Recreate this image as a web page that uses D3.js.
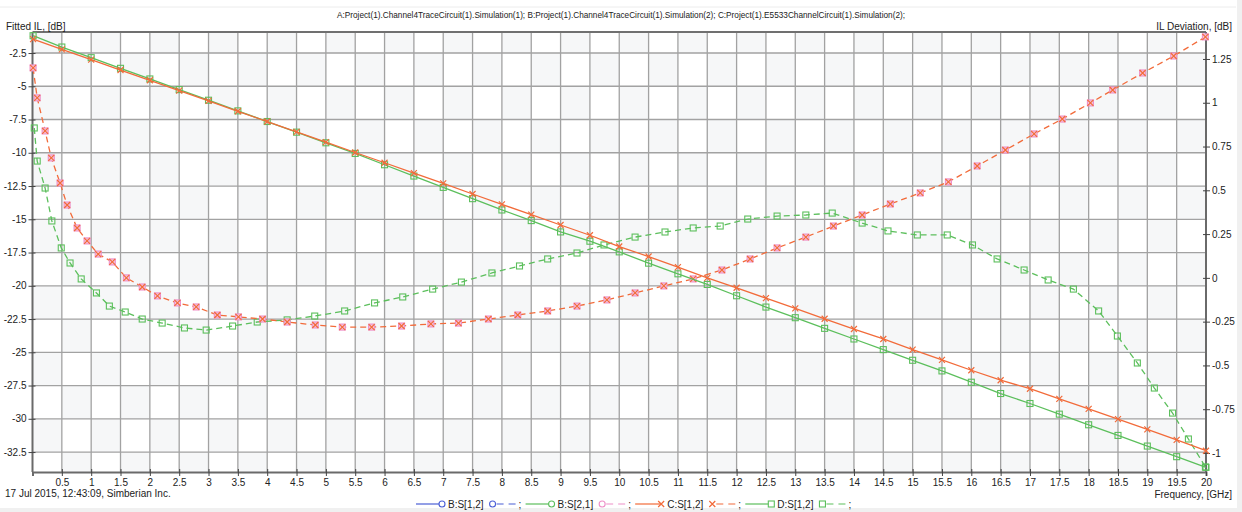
<!DOCTYPE html>
<html>
<head>
<meta charset="utf-8">
<script src="https://cdn.jsdelivr.net/npm/d3@7"></script>
<style>
  body { margin: 0; background: #fff; }
  text { font-family: "Liberation Sans Narrow", "Liberation Sans", Arial, sans-serif; font-size: 10px; fill: #222; }
</style>
</head>
<body>
<div id="chart"></div>
<script>
// ---- data ----
const fitFreq = [0.01, 0.5, 1, 1.5, 2, 2.5, 3, 3.5, 4, 4.5, 5, 5.5, 6, 6.5, 7, 7.5, 8, 8.5, 9, 9.5,
  10, 10.5, 11, 11.5, 12, 12.5, 13, 13.5, 14, 14.5, 15, 15.5, 16, 16.5, 17, 17.5, 18, 18.5, 19, 19.5, 20];

// C:S[1,2] fitted IL, left axis
const cFit = [-1.45, -2.23, -3.0, -3.78, -4.55, -5.33, -6.1, -6.88, -7.65, -8.43, -9.2, -9.98, -10.75, -11.53,
  -12.3, -13.1, -13.88, -14.65, -15.43, -16.2, -17.05, -17.8, -18.6, -19.4, -20.15, -20.93, -21.7, -22.48,
  -23.25, -24.0, -24.8, -25.57, -26.35, -27.1, -27.74, -28.5, -29.25, -30.02, -30.8, -31.58, -32.4];

// D:S[1,2] fitted IL, left axis
const dFit = [-1.2, -2.05, -2.85, -3.65, -4.45, -5.25, -6.05, -6.85, -7.65, -8.45, -9.25, -10.05, -10.9, -11.75,
  -12.6, -13.45, -14.3, -15.1, -15.95, -16.65, -17.45, -18.3, -19.1, -19.9, -20.75, -21.6, -22.4, -23.2,
  -24.0, -24.8, -25.6, -26.4, -27.25, -28.1, -28.85, -29.65, -30.45, -31.25, -32.05, -32.85, -33.65];

// C:S[1,2] IL deviation, right axis
const cDevFreq = [0.01, 0.08, 0.215, 0.32, 0.47, 0.59, 0.76, 0.93, 1.12, 1.36, 1.6, 1.87, 2.13, 2.47, 2.79,
  3.15, 3.51, 3.92, 4.34, 4.82, 5.28, 5.78, 6.29, 6.79, 7.26, 7.77, 8.27, 8.78, 9.28, 9.79, 10.27, 10.76,
  11.26, 11.75, 12.23, 12.69, 13.18, 13.65, 14.14, 14.62, 15.13, 15.61, 16.1, 16.58, 17.07, 17.55, 18.03,
  18.41, 18.92, 19.45, 19.99];
const cDev = [1.199, 1.028, 0.839, 0.685, 0.542, 0.416, 0.285, 0.211, 0.136, 0.091, 0.0, -0.052, -0.103, -0.143,
  -0.166, -0.212, -0.223, -0.235, -0.252, -0.269, -0.281, -0.281, -0.275, -0.263, -0.258, -0.235, -0.212,
  -0.189, -0.161, -0.126, -0.086, -0.046, -0.006, 0.045, 0.108, 0.171, 0.233, 0.296, 0.359, 0.422, 0.485,
  0.548, 0.639, 0.73, 0.822, 0.907, 0.999, 1.073, 1.17, 1.267, 1.376];

// D:S[1,2] IL deviation, right axis
const dDevFreq = [0.03, 0.08, 0.215, 0.33, 0.49, 0.64, 0.83, 1.09, 1.31, 1.58, 1.87, 2.21, 2.59, 2.96, 3.41,
  3.83, 4.34, 4.81, 5.32, 5.83, 6.31, 6.82, 7.31, 7.83, 8.3, 8.78, 9.28, 9.74, 10.27, 10.78, 11.26, 11.72,
  12.19, 12.69, 13.18, 13.63, 14.14, 14.58, 15.08, 15.59, 16.02, 16.44, 16.9, 17.31, 17.74, 18.17, 18.49,
  18.83, 19.12, 19.43, 19.7, 19.99];
const dDev = [0.856, 0.667, 0.513, 0.325, 0.171, 0.085, -0.006, -0.086, -0.161, -0.195, -0.235, -0.258, -0.286,
  -0.298, -0.275, -0.252, -0.24, -0.218, -0.189, -0.143, -0.109, -0.064, -0.024, 0.028, 0.068, 0.108, 0.142,
  0.188, 0.233, 0.262, 0.285, 0.296, 0.336, 0.353, 0.359, 0.37, 0.313, 0.268, 0.245, 0.245, 0.188, 0.108,
  0.045, -0.012, -0.064, -0.189, -0.332, -0.486, -0.629, -0.772, -0.92, -1.08];

const xTicks = [0.5, 1, 1.5, 2, 2.5, 3, 3.5, 4, 4.5, 5, 5.5, 6, 6.5, 7, 7.5, 8, 8.5, 9, 9.5, 10,
  10.5, 11, 11.5, 12, 12.5, 13, 13.5, 14, 14.5, 15, 15.5, 16, 16.5, 17, 17.5, 18, 18.5, 19, 19.5, 20];
const leftTicks = [-2.5, -5, -7.5, -10, -12.5, -15, -17.5, -20, -22.5, -25, -27.5, -30, -32.5];
const rightTicks = [1.25, 1, 0.75, 0.5, 0.25, 0, -0.25, -0.5, -0.75, -1];

const titleText = "A:Project(1).Channel4TraceCircuit(1).Simulation(1); B:Project(1).Channel4TraceCircuit(1).Simulation(2); C:Project(1).E5533ChannelCircuit(1).Simulation(2);";

const legendNames = ["B:S[1,2]", "B:S[2,1]", "C:S[1,2]", "D:S[1,2]"];
const legendColors = ["#4b5fd6", "#5cbf5c", "#f26b3a", "#5cbf5c"];
const legendDevColors = ["#4b5fd6", "#ee8fc8", "#f26b3a", "#5cbf5c"];
const legendMarks = ["circle", "circle", "x", "square"];

// ---- setup ----
const width = 1242, height = 512;
const red = "#f26b3a", green = "#5cbf5c", pink = "#ee8fc8";

const svg = d3.select("#chart").append("svg")
  .attr("width", width).attr("height", height);

const x = d3.scaleLinear().domain([0, 20]).range([32.5, 1206]);
const yL = d3.scaleLinear().domain([-34.0, -0.92]).range([472, 32]);
const yR = d3.scaleLinear().domain([-1.1085, 1.404]).range([472, 32]);

// window frame bits
svg.append("line").attr("x1", 0).attr("x2", 1236).attr("y1", 7).attr("y2", 7)
  .attr("stroke", "#ececec");
svg.append("rect").attr("x", 1237).attr("y", 0).attr("width", 5).attr("height", height).attr("fill", "#f0f0f0");
svg.append("rect").attr("x", 0).attr("y", 508).attr("width", width).attr("height", 4).attr("fill", "#f0f0f0");

// checker background
const colEdges = [0].concat(xTicks);
const rowEdges = [-0.92].concat(leftTicks).concat([-34.0]);
const bg = svg.append("g");
for (let i = 0; i < colEdges.length - 1; i++) {
  for (let j = 0; j < rowEdges.length - 1; j++) {
    if ((i + j) % 2 === 0) {
      bg.append("rect")
        .attr("x", x(colEdges[i])).attr("width", x(colEdges[i + 1]) - x(colEdges[i]))
        .attr("y", yL(rowEdges[j])).attr("height", yL(rowEdges[j + 1]) - yL(rowEdges[j]))
        .attr("fill", "#f6f7f8");
    }
  }
}

// grid
svg.append("g").selectAll("line").data(xTicks.slice(0, -1)).enter().append("line")
  .attr("x1", d => x(d)).attr("x2", d => x(d)).attr("y1", 32).attr("y2", 472)
  .attr("stroke", "#a2a2a2").attr("stroke-width", 1.3);
svg.append("g").selectAll("line").data(leftTicks).enter().append("line")
  .attr("x1", x(0)).attr("x2", x(20)).attr("y1", d => yL(d)).attr("y2", d => yL(d))
  .attr("stroke", "#a2a2a2").attr("stroke-width", 1.3);

// frame top
svg.append("line").attr("x1", x(0)).attr("x2", x(20)).attr("y1", 32).attr("y2", 32)
  .attr("stroke", "#707070").attr("stroke-width", 2);

// axes
const fmt = d => String(d);
const gx = svg.append("g").attr("transform", "translate(0,472)")
  .call(d3.axisBottom(x).tickValues(xTicks).tickFormat(fmt).tickSize(4).tickPadding(3));
gx.selectAll(".tick line").attr("y1", -3);
const gl = svg.append("g").attr("transform", `translate(${x(0)},0)`)
  .call(d3.axisLeft(yL).tickValues(leftTicks).tickFormat(fmt).tickSize(4).tickPadding(2));
gl.selectAll(".tick line").attr("x1", 3);
const gr = svg.append("g").attr("transform", `translate(${x(20)},0)`)
  .call(d3.axisRight(yR).tickValues(rightTicks).tickFormat(fmt).tickSize(4).tickPadding(2));
gr.selectAll(".tick line").attr("x1", -3);
[gx, gl, gr].forEach(g => {
  g.select(".domain").attr("stroke", "#6a6a6a").attr("stroke-width", 2);
  g.selectAll(".tick line").attr("stroke", "#444");
  g.selectAll(".tick text").style("font-size", "10px").attr("fill", "#222");
});
gl.selectAll(".domain").attr("d", `M0,32V472`);
gr.selectAll(".domain").attr("d", `M0,32V472`);

// markers
function drawMarks(g, pts, kind, color, fill) {
  pts.forEach(p => {
    if (kind === "x") {
      g.append("path").attr("d", `M${p[0] - 3},${p[1] - 3}L${p[0] + 3},${p[1] + 3}M${p[0] - 3},${p[1] + 3}L${p[0] + 3},${p[1] - 3}`)
        .attr("stroke", color).attr("stroke-width", 1.2).attr("fill", "none");
    } else if (kind === "square") {
      g.append("rect").attr("x", p[0] - 3).attr("y", p[1] - 3).attr("width", 6).attr("height", 6)
        .attr("stroke", color).attr("stroke-width", 1.1).attr("fill", fill || "none");
    } else {
      g.append("circle").attr("cx", p[0]).attr("cy", p[1]).attr("r", 3)
        .attr("stroke", color).attr("stroke-width", 1.1).attr("fill", fill || "none");
    }
  });
}

function drawSeries(freqs, vals, yScale, color, dashed, kinds) {
  const pts = freqs.map((f, i) => [x(f), yScale(vals[i])]);
  const g = svg.append("g");
  g.append("path").datum(pts)
    .attr("d", d3.line())
    .attr("fill", "none").attr("stroke", color).attr("stroke-width", 1.3)
    .attr("stroke-dasharray", dashed ? "6,4" : null);
  kinds.forEach(k => drawMarks(g, pts, k[0], k[1], k[2]));
}

drawSeries(dDevFreq, dDev, yR, green, true, [["square", green]]);
drawSeries(cDevFreq, cDev, yR, red, true, [["square", pink, "#f6c6dc"], ["x", red]]);
drawSeries(fitFreq, dFit, yL, green, false, [["square", green]]);
drawSeries(fitFreq, cFit, yL, red, false, [["x", red]]);

// labels
svg.append("text").attr("x", 621).attr("y", 18).attr("text-anchor", "middle")
  .attr("textLength", 568).attr("lengthAdjust", "spacingAndGlyphs").style("font-size", "9.5px")
  .text(titleText);
svg.append("text").attr("x", 6).attr("y", 30).text("Fitted IL, [dB]");
svg.append("text").attr("x", 1232).attr("y", 30).attr("text-anchor", "end").text("IL Deviation, [dB]");
svg.append("text").attr("x", 5).attr("y", 497).text("17 Jul 2015, 12:43:09, Simberian Inc.");
svg.append("text").attr("x", 1232).attr("y", 498).attr("text-anchor", "end").text("Frequency, [GHz]");

// legend
const lg = svg.append("g");
let cx = 416;
const ly = 504;
legendNames.forEach((name, i) => {
  lg.append("line").attr("x1", cx).attr("x2", cx + 26).attr("y1", ly).attr("y2", ly)
    .attr("stroke", legendColors[i]).attr("stroke-width", 1.2);
  drawMarks(lg, [[cx + 26, ly]], legendMarks[i], legendColors[i], "#fff");
  const t = lg.append("text").attr("x", cx + 32).attr("y", ly + 3.5).text(name);
  const tEnd = cx + 32 + t.node().getComputedTextLength();
  const mx = tEnd + 9;
  drawMarks(lg, [[mx, ly]], legendMarks[i], legendDevColors[i], "none");
  lg.append("line").attr("x1", mx + 4).attr("x2", mx + 24).attr("y1", ly).attr("y2", ly)
    .attr("stroke", legendDevColors[i]).attr("stroke-width", 1.2).attr("stroke-dasharray", "7,5");
  lg.append("text").attr("x", mx + 26).attr("y", ly + 3.5).text(";");
  cx = mx + 33;
});
</script>
</body>
</html>
